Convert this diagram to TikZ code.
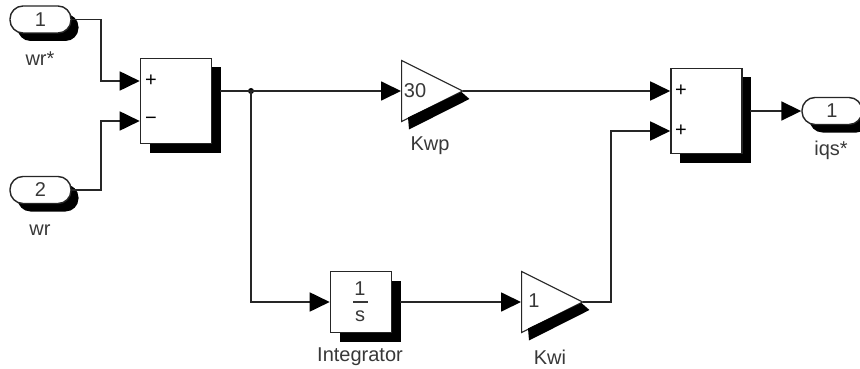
\documentclass[tikz,border=0pt]{standalone}
\usepackage{fontspec}
\setmainfont{Liberation Sans}
\usetikzlibrary{arrows.meta,shapes.geometric,shadows,calc}
\definecolor{inktext}{gray}{0.22}
\tikzset{
  wire/.style={line width=1.8pt,draw=black!85},
  sig/.style={wire,-{Triangle[length=20pt,width=19pt,color=black]}},
  port/.style={draw=black!85,line width=1.4pt,fill=white,rounded corners=13pt,inner sep=0pt,
     minimum width=61pt,minimum height=27pt,general shadow={fill=black,shadow xshift=7.5pt,shadow yshift=-8pt},
     text=inktext,font=\fontsize{20}{22}\selectfont},
  blk/.style={draw=black!85,line width=1.6pt,fill=white,inner sep=0pt,
     general shadow={fill=black,shadow xshift=9pt,shadow yshift=-9pt}},
  gainb/.style={isosceles triangle,isosceles triangle apex angle=90,isosceles triangle stretches,
     draw=black!85,line width=1.2pt,fill=white,inner sep=0pt,minimum width=61pt,minimum height=61pt},
  lbl/.style={text=inktext,font=\fontsize{20}{22}\selectfont,inner sep=0pt},
  sign/.style={text=black,font=\fontsize{20}{20}\selectfont,inner sep=0pt},
  dotj/.style={circle,fill=black,inner sep=0pt,minimum size=6pt}
}
\begin{document}
\begin{tikzpicture}[x=1pt,y=-1pt]
\useasboundingbox (0,0) rectangle (860,369);
\clip (0,0) rectangle (860,369);
% blocks
\node[port] (inA) at (40.5,19.5) {1};
\node[port] (inB) at (40.5,190) {2};
\node[blk,minimum width=71pt,minimum height=85pt] (sumA) at (176,101) {};
\node[blk,minimum width=71pt,minimum height=85pt] (sumB) at (706.5,111) {};
\node[port,minimum width=60pt] (outA) at (832,111) {1};
\node[gainb,anchor=lower side] (kwp) at (401,91) {};
\node[gainb,anchor=lower side] (kwi) at (521,302) {};
\node[blk,minimum width=61pt,minimum height=61pt] (integ) at (361,302) {};
% gain shadows
\foreach \g in {kwp,kwi}{
  \fill[black] ($(\g.apex)+(-2,1)$) -- ($(\g.apex)+(6,8)$)
     -- ($(\g.right corner)+(8,7)$) -- ($(\g.right corner)+(7,-5)$) -- cycle;
}
% ports on the blocks
\coordinate (sumAp) at (sumA.west |- 0,81);
\coordinate (sumAm) at (sumA.west |- 0,121);
\coordinate (sumBa) at (sumB.west |- 0,91);
\coordinate (sumBb) at (sumB.west |- 0,131);
\coordinate (sumAout) at (220,91);
\coordinate (sumBout) at (750,111);
\coordinate (kwpin) at (kwp.lower side);
\coordinate (kwiin) at (kwi.lower side);
\coordinate (integout) at (400,302);
\coordinate (elbowA) at (101,50);
\coordinate (elbowK) at (611,200);
\node[dotj] (branch) at (251,91) {};
% block text
\node[sign] (pA) at (151,81) {+};
\node[sign] (mA) at (151,121) {−};
\node[sign] (pB1) at (681,91) {+};
\node[sign] (pB2) at (681,131) {+};
\node[lbl] (kwpval) at (415,90.5) {30};
\node[lbl] (kwival) at (534,301) {1};
\node[lbl] (intn) at (360,289) {1};
\node[lbl] (intd) at (360,316) {s};
\draw[line width=1.5pt,draw=inktext] (353,302) -- (368,302);
% connectors
\draw[sig] (inA.east) -| (elbowA |- sumAp) -- (sumAp);
\draw[sig] (inB.east) -| (elbowA |- sumAm) -- (sumAm);
\draw[sig] (sumAout) -- (branch.center) -- (kwpin);
\draw[sig] (branch.center) |- (integ.west);
\draw[sig] (kwp.apex) -- (sumBa);
\draw[sig] (integout) -- (kwiin);
\draw[sig] (kwi.apex) -| (elbowK |- sumBb) -- (sumBb);
\draw[sig] (sumBout) -- (outA.west);
% labels
\node[lbl] (l1) at (40,59) {wr*};
\node[lbl] (l2) at (40,230) {wr};
\node[lbl] (l3) at (430,146) {Kwp};
\node[lbl] (l4) at (360,357) {Integrator};
\node[lbl] (l5) at (550,357) {Kwi};
\node[lbl] (l6) at (831,150) {iqs*};
\end{tikzpicture}
\end{document}
